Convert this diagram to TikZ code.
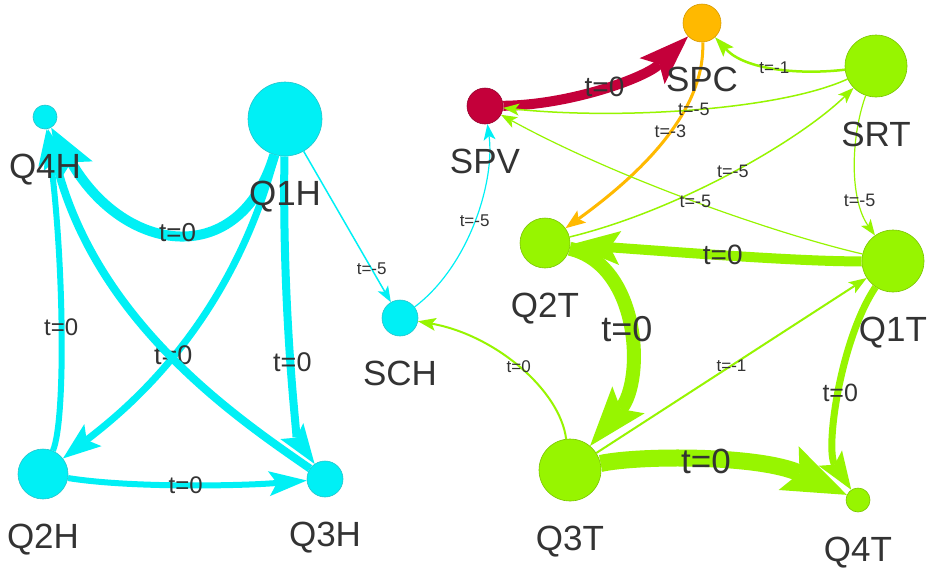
\documentclass[tikz,border=0pt]{standalone}
\usepackage{fontspec}
\setmainfont{Liberation Sans}
\usetikzlibrary{arrows.meta,positioning}

\definecolor{hcyan}{HTML}{00F0F5}
\definecolor{hcyanB}{HTML}{22C4CC}
\definecolor{tgreen}{HTML}{97F500}
\definecolor{tgreenB}{HTML}{7AC400}
\definecolor{pvred}{HTML}{C4003A}
\definecolor{pvredB}{HTML}{96002C}
\definecolor{pcorange}{HTML}{FFB900}
\definecolor{pcorangeB}{HTML}{D69A00}
\definecolor{txtgray}{HTML}{333333}

\begin{document}
\begin{tikzpicture}[x=1pt, y=-1pt,
  hnode/.style={circle, draw=hcyanB, fill=hcyan, line width=0.6pt, inner sep=0pt},
  tnode/.style={circle, draw=tgreenB, fill=tgreen, line width=0.6pt, inner sep=0pt},
  vlabel/.style={font=\fontsize{35}{40}\selectfont, text=txtgray, inner sep=0pt, text height=25pt, text depth=2pt},
  elbl/.style={font=\fontsize{#1}{#1}\selectfont, text=txtgray, inner sep=0pt},
  ahead/.style n args={3}{-{Stealth[length=#1, width=#2, inset=#3, line width=0pt]}},
  hlink/.style={draw=hcyan, line width=#1},
  tlink/.style={draw=tgreen, line width=#1},
]
\fill[white] (0,0) rectangle (933,574);
\useasboundingbox (0,0) rectangle (933,574);

% H group
\node[hnode, minimum size=24pt] (q4h) at (45,117) {};
\node[hnode, minimum size=74pt] (q1h) at (285,119) {};
\node[hnode, minimum size=50pt] (q2h) at (43,474) {};
\node[hnode, minimum size=36pt] (q3h) at (325,479) {};
\node[hnode, minimum size=36pt] (sch) at (400,318) {};

% S / T group
\node[circle, draw=pvredB, fill=pvred, line width=0.6pt, inner sep=0pt, minimum size=36pt] (spv) at (485,106) {};
\node[circle, draw=pcorangeB, fill=pcorange, line width=0.6pt, inner sep=0pt, minimum size=38pt] (spc) at (702,23) {};
\node[tnode, minimum size=62pt] (srt) at (876,66) {};
\node[tnode, minimum size=50pt] (q2t) at (545,243) {};
\node[tnode, minimum size=62pt] (q1t) at (893,261) {};
\node[tnode, minimum size=62pt] (q3t) at (570,470) {};
\node[tnode, minimum size=24pt] (q4t) at (858,500) {};

% cyan edges
\draw[hlink=10pt, ahead={50pt}{38pt}{10pt}] (q1h) .. controls (240,270) and (125,255) .. (q4h) node[pos=.5, elbl=26] {t=0};
\draw[hlink=7pt, ahead={38pt}{28pt}{8pt}] (q1h) .. controls (229,330) and (120,414) .. (q2h) node[pos=.5, elbl=27] {t=0};
\draw[hlink=8pt, ahead={40pt}{28pt}{8pt}] (q1h) .. controls (282,320) and (298,440) .. (q3h) node[pos=.5, elbl=27] {t=0};
\draw[hlink=6pt, ahead={36pt}{26pt}{8pt}] (q2h) .. controls (66,420) and (64,260) .. (q4h) node[pos=.5, elbl=24] {t=0};
\draw[hlink=8pt, ahead={40pt}{28pt}{8pt}] (q3h) .. controls (240,420) and (95,323) .. (q4h);
\draw[hlink=6pt, ahead={38pt}{25pt}{8pt}] (q2h) .. controls (130,488) and (240,486) .. (q3h) node[pos=.5, elbl=24] {t=0};
\draw[hlink=1.5pt, ahead={16pt}{12pt}{4pt}] (q1h) -- (sch) node[pos=.78, elbl=17] {t=-5};
\draw[hlink=1.2pt, ahead={16pt}{12pt}{4pt}] (sch) .. controls (470,265) and (495,180) .. (spv) node[pos=.5, elbl=17] {t=-5};

% red / orange edges
\draw[draw=pvred, line width=10pt, ahead={50pt}{36pt}{10pt}] (spv) .. controls (570,105) and (645,78) .. (spc) node[pos=.5, elbl=28] {t=0};
\draw[draw=pcorange, line width=3pt, ahead={20pt}{15pt}{4pt}] (spc) .. controls (705,100) and (660,160) .. (q2t) node[pos=.5, elbl=18] {t=-3};

% green edges
\draw[tlink=2.5pt, ahead={20pt}{14pt}{4pt}] (srt) .. controls (800,75) and (745,70) .. (spc) node[pos=.5, elbl=17] {t=-1};
\draw[tlink=1.5pt, ahead={16pt}{12pt}{4pt}] (srt) .. controls (780,110) and (620,120) .. (spv) node[pos=.5, elbl=18] {t=-5};
\draw[tlink=1.5pt, ahead={16pt}{12pt}{4pt}] (q2t) .. controls (680,210) and (800,140) .. (srt) node[pos=.5, elbl=18] {t=-5};
\draw[tlink=1.2pt, ahead={16pt}{12pt}{4pt}] (q1t) .. controls (780,235) and (620,180) .. (spv) node[pos=.5, elbl=18] {t=-5};
\draw[tlink=1.2pt, ahead={16pt}{12pt}{4pt}] (srt) .. controls (850,140) and (850,200) .. (q1t) node[pos=.72, elbl=18] {t=-5};
\draw[tlink=10pt, ahead={50pt}{34pt}{10pt}] (q1t) .. controls (800,262) and (650,250) .. (q2t) node[pos=.5, elbl=28] {t=0};
\draw[tlink=14pt, ahead={60pt}{42pt}{12pt}] (q2t) .. controls (640,265) and (645,380) .. (q3t) node[pos=.5, elbl=36] {t=0};
\draw[tlink=2pt, ahead={18pt}{13pt}{4pt}] (q3t) .. controls (560,390) and (495,335) .. (sch) node[pos=.5, elbl=17] {t=0};
\draw[tlink=2pt, ahead={18pt}{13pt}{4pt}] (q3t) -- (q1t) node[pos=.5, elbl=17] {t=-1};
\draw[tlink=17pt, ahead={64pt}{48pt}{12pt}] (q3t) .. controls (640,455) and (760,455) .. (q4t) node[pos=.5, elbl=35] {t=0};
\draw[tlink=7pt, ahead={38pt}{28pt}{8pt}] (q1t) .. controls (840,340) and (825,450) .. (q4t) node[pos=.5, elbl=25] {t=0};

% node names
\node[vlabel, below=24pt of q4h] (q4hL) {Q4H};
\node[vlabel, below=24pt of q1h] (q1hL) {Q1H};
\node[vlabel, below=24pt of q2h] (q2hL) {Q2H};
\node[vlabel, below=24pt of q3h] (q3hL) {Q3H};
\node[vlabel, below=24pt of sch] (schL) {SCH};
\node[vlabel, below=24pt of spv] (spvL) {SPV};
\node[vlabel, below=24pt of spc] (spcL) {SPC};
\node[vlabel, below=24pt of srt] (srtL) {SRT};
\node[vlabel, below=24pt of q2t] (q2tL) {Q2T};
\node[vlabel, below=24pt of q1t] (q1tL) {Q1T};
\node[vlabel, below=24pt of q3t] (q3tL) {Q3T};
\node[vlabel, below=24pt of q4t] (q4tL) {Q4T};
\end{tikzpicture}
\end{document}
